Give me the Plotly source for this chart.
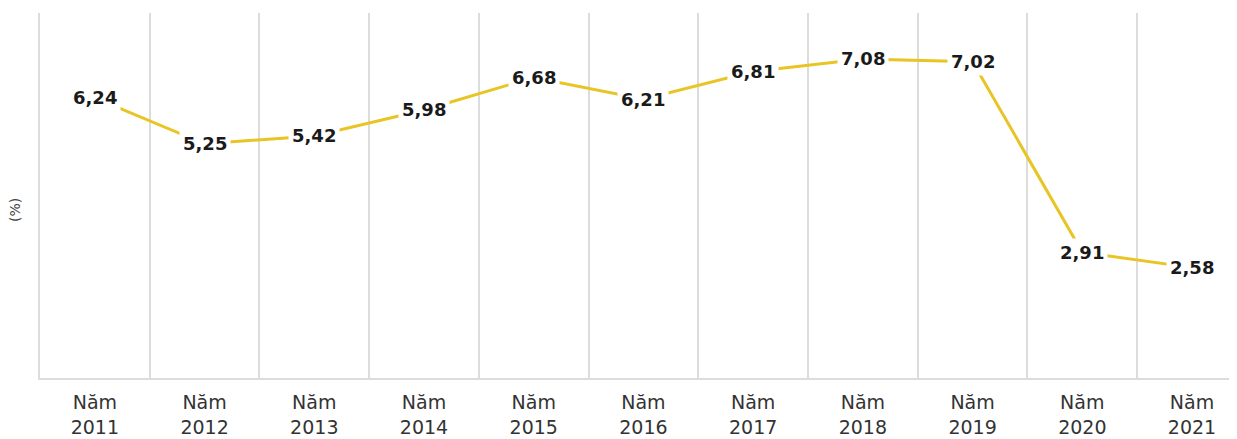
import plotly.graph_objects as go

years = ["2011", "2012", "2013", "2014", "2015", "2016", "2017", "2018", "2019", "2020", "2021"]
categories = ["Năm<br>" + y for y in years]
values = [6.24, 5.25, 5.42, 5.98, 6.68, 6.21, 6.81, 7.08, 7.02, 2.91, 2.58]
value_labels = ["6,24", "5,25", "5,42", "5,98", "6,68", "6,21", "6,81", "7,08", "7,02", "2,91", "2,58"]

fig = go.Figure()
fig.add_trace(go.Scatter(
    x=categories, y=values, mode="lines",
    line=dict(color="#E8C525", width=3),
    hoverinfo="skip", showlegend=False,
))

for c, v, t in zip(categories, values, value_labels):
    fig.add_annotation(
        x=c, y=v, xref="x", yref="y", text=t, showarrow=False,
        font=dict(family="DejaVu Sans", size=18, color="#1a1a1a", weight="bold"),
        bgcolor="white", borderpad=3,
    )

fig.add_annotation(
    x=-0.021, y=0.46, xref="paper", yref="paper", text="(%)", showarrow=False,
    textangle=-90, xanchor="center", yanchor="middle",
    font=dict(family="DejaVu Sans", size=14, color="#444444"),
)

# page body adds an 8px offset; margins compensate so the plot area lands where the reference has it
fig.update_layout(
    width=1237, height=439,
    margin=dict(l=32, r=8, t=5, b=69),
    paper_bgcolor="white", plot_bgcolor="white",
    xaxis=dict(
        type="category", range=[-0.5, 10.41], automargin=False,
        tickson="boundaries", showgrid=True, gridcolor="#DCDCDC", gridwidth=2,
        showline=True, linecolor="#DCDCDC", linewidth=2,
        ticks="", ticklabelstandoff=6,
        tickfont=dict(family="DejaVu Sans", size=19, color="#333333"),
        fixedrange=True,
    ),
    yaxis=dict(
        range=[0.2, 8.07], showgrid=False, zeroline=False, automargin=False,
        showticklabels=False, showline=True, linecolor="#DCDCDC", linewidth=2,
        fixedrange=True,
    ),
)

fig.write_html("out.html")
